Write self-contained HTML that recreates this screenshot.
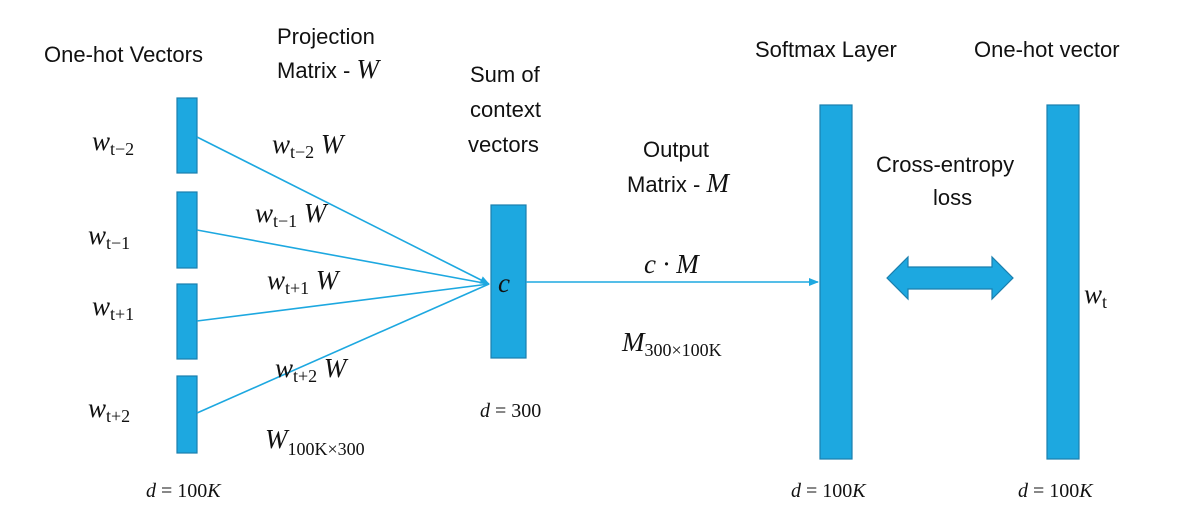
<!DOCTYPE html>
<html><head><meta charset="utf-8"><style>
body{margin:0;background:#fff;width:1185px;height:521px;overflow:hidden}
svg{display:block}
.t{font-family:"Liberation Sans",sans-serif;font-size:22px;fill:#111}
.m{font-family:"Liberation Serif",serif;font-style:italic;font-size:27px;fill:#111}
.s{font-size:18px;font-style:normal}
.d{font-family:"Liberation Serif",serif;font-size:20px;fill:#111}
</style></head><body>
<svg width="1185" height="521" viewBox="0 0 1185 521">
<defs><marker id="a" markerWidth="10" markerHeight="8" refX="9" refY="4" orient="auto" markerUnits="userSpaceOnUse"><path d="M0,0 L10,4 L0,8z" fill="#1da8e0"/></marker></defs>
<g fill="#1da8e0" stroke="#1a7fae" stroke-width="1.2">
<rect x="177" y="98" width="20" height="75"/>
<rect x="177" y="192" width="20" height="76"/>
<rect x="177" y="284" width="20" height="75"/>
<rect x="177" y="376" width="20" height="77"/>
<rect x="491" y="205" width="35" height="153"/>
<rect x="820" y="105" width="32" height="354"/>
<rect x="1047" y="105" width="32" height="354"/>
<path d="M887,278 L908,257 L908,267 L992,267 L992,257 L1013,278 L992,299 L992,289 L908,289 L908,299Z"/>
</g>
<g stroke="#1da8e0" stroke-width="1.6" fill="none">
<line x1="197" y1="137" x2="489" y2="284" marker-end="url(#a)"/>
<line x1="197" y1="230" x2="489" y2="284"/>
<line x1="197" y1="321" x2="489" y2="284"/>
<line x1="197" y1="413" x2="489" y2="284"/>
<line x1="526" y1="282" x2="818" y2="282" marker-end="url(#a)"/>
</g>
<text class="t" x="44" y="62">One-hot Vectors</text>
<text class="t" x="277" y="44">Projection</text>
<text class="t" x="277" y="78">Matrix - <tspan class="m">W</tspan></text>
<text class="t" x="470" y="82">Sum of</text>
<text class="t" x="470" y="117">context</text>
<text class="t" x="468" y="152">vectors</text>
<text class="t" x="643" y="157">Output</text>
<text class="t" x="627" y="192">Matrix - <tspan class="m">M</tspan></text>
<text class="t" x="755" y="57">Softmax Layer</text>
<text class="t" x="974" y="57">One-hot vector</text>
<text class="t" x="876" y="172">Cross-entropy</text>
<text class="t" x="933" y="205">loss</text>
<text class="m" x="92" y="150">w<tspan class="s" dy="5">t−2</tspan></text>
<text class="m" x="88" y="244">w<tspan class="s" dy="5">t−1</tspan></text>
<text class="m" x="92" y="315">w<tspan class="s" dy="5">t+1</tspan></text>
<text class="m" x="88" y="417">w<tspan class="s" dy="5">t+2</tspan></text>
<text class="m" x="272" y="153">w<tspan class="s" dy="5">t−2</tspan><tspan dy="-5"> W</tspan></text>
<text class="m" x="255" y="222">w<tspan class="s" dy="5">t−1</tspan><tspan dy="-5"> W</tspan></text>
<text class="m" x="267" y="289">w<tspan class="s" dy="5">t+1</tspan><tspan dy="-5"> W</tspan></text>
<text class="m" x="275" y="377">w<tspan class="s" dy="5">t+2</tspan><tspan dy="-5"> W</tspan></text>
<text class="m" x="265" y="448">W<tspan class="s" dy="7">100K×300</tspan></text>
<text class="m" x="498" y="292">c</text>
<text class="m" x="644" y="273">c · M</text>
<text class="m" x="622" y="351">M<tspan class="s" dy="5">300×100K</tspan></text>
<text class="m" x="1084" y="303">w<tspan class="s" dy="5">t</tspan></text>
<text class="d" x="146" y="497"><tspan font-style="italic">d</tspan> = 100<tspan font-style="italic">K</tspan></text>
<text class="d" x="480" y="417"><tspan font-style="italic">d</tspan> = 300</text>
<text class="d" x="791" y="497"><tspan font-style="italic">d</tspan> = 100<tspan font-style="italic">K</tspan></text>
<text class="d" x="1018" y="497"><tspan font-style="italic">d</tspan> = 100<tspan font-style="italic">K</tspan></text>
</svg>
</body></html>
